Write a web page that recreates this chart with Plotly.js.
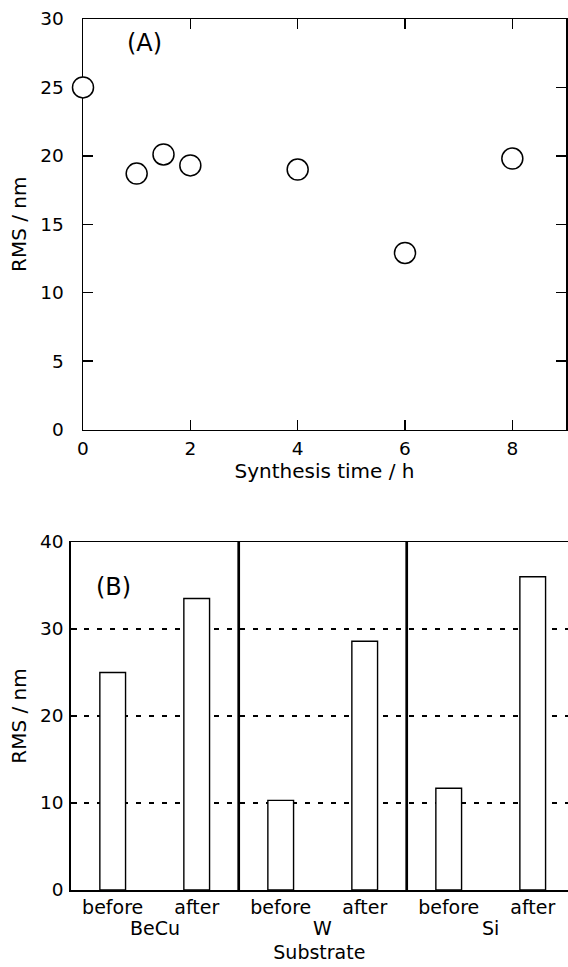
<!DOCTYPE html>
<html>
<head>
<meta charset="utf-8">
<script src="https://cdn.plot.ly/plotly-3.0.1.min.js"></script>
<style>
  html, body { margin: 0; padding: 0; background: #fff; }
  #chart { width: 568px; height: 967px; }
</style>
</head>
<body>
<div id="chart"></div>
<script>
// ---- Panel (A): RMS vs synthesis time ----
const synthesisTime = [0, 1, 1.5, 2, 4, 6, 8];
const rmsA = [25.0, 18.7, 20.1, 19.3, 19.0, 12.9, 19.8];

// ---- Panel (B): RMS per substrate, before / after ----
const substrates = ['BeCu', 'BeCu', 'W', 'W', 'Si', 'Si'];
const stages = ['before', 'after', 'before', 'after', 'before', 'after'];
const rmsB = [25.0, 33.5, 10.3, 28.6, 11.7, 36.0];

const FONT = 'DejaVu Sans, Liberation Sans, Arial, sans-serif';
const W = 568, H = 967;
const px = v => v / W;
const py = v => 1 - v / H;

// one category per bar, shown with its stage label
const barKeys = substrates.map((s, i) => s + ' ' + stages[i]);

// substrate groups: centre index and boundaries
const groups = [];
substrates.forEach((s, i) => {
  const g = groups.find(g => g.name === s);
  if (g) g.idx.push(i); else groups.push({ name: s, idx: [i] });
});
const groupCentres = groups.map(g => g.idx.reduce((a, b) => a + b, 0) / g.idx.length);
const separators = groups.slice(1).map(g => g.idx[0] - 0.5);

const traces = [
  {
    type: 'scatter', mode: 'markers',
    x: synthesisTime, y: rmsA,
    xaxis: 'x', yaxis: 'y',
    cliponaxis: false,
    marker: { symbol: 'circle', size: 21, color: '#ffffff', line: { color: '#000', width: 1.5 } },
    showlegend: false, hoverinfo: 'x+y'
  },
  {
    type: 'bar',
    x: barKeys, y: rmsB,
    xaxis: 'x2', yaxis: 'y2',
    width: 0.306,
    marker: { color: '#ffffff', line: { color: '#000', width: 1.4 } },
    showlegend: false
  }
];

const layout = {
  width: W, height: H,
  margin: { l: 0, r: 0, t: 0, b: 0 },
  paper_bgcolor: '#fff', plot_bgcolor: 'rgba(0,0,0,0)',
  font: { family: FONT, color: '#000', size: 18.5 },
  showlegend: false,
  xaxis: {
    domain: [px(83), px(566)], anchor: 'y',
    range: [0, 9], dtick: 2, tick0: 0,
    showline: true, linecolor: '#000', linewidth: 1.5, mirror: 'ticks',
    ticks: 'inside', ticklen: 10, tickwidth: 1.5, tickcolor: '#000',
    showgrid: false, zeroline: false, layer: 'below traces',
    tickfont: { family: FONT, size: 18.5 },
    ticklabelstandoff: 2,
    title: { text: 'Synthesis time / h', font: { family: FONT, size: 20 }, standoff: 6 }
  },
  yaxis: {
    domain: [py(429.5), py(19)], anchor: 'x',
    range: [0, 30], dtick: 5, tick0: 0,
    showline: true, linecolor: '#000', linewidth: 1.5, mirror: 'ticks',
    ticks: 'inside', ticklen: 10, tickwidth: 1.5, tickcolor: '#000',
    showgrid: false, zeroline: false, layer: 'below traces',
    tickfont: { family: FONT, size: 18.5 },
    ticklabelstandoff: 14,
    title: { text: 'RMS / nm', font: { family: FONT, size: 20 }, standoff: 8 }
  },
  xaxis2: {
    domain: [px(70.7), 1], anchor: 'y2',
    type: 'category',
    categoryorder: 'array', categoryarray: barKeys,
    tickvals: barKeys, ticktext: stages,
    range: [-0.5, 5.42],
    showline: true, linecolor: '#000', linewidth: 1.5, mirror: true,
    ticks: '',
    showgrid: false, zeroline: false,
    tickfont: { family: FONT, size: 19 },
    ticklabelstandoff: 0,
    title: { text: 'Substrate', font: { family: FONT, size: 19 }, standoff: 28 }
  },
  yaxis2: {
    domain: [py(890), py(542)], anchor: 'x2',
    range: [0, 40], dtick: 10, tick0: 0,
    showline: true, linecolor: '#000', linewidth: 1.5,
    ticks: 'inside', ticklen: 6, tickwidth: 1.5, tickcolor: '#000',
    showgrid: true, gridcolor: '#000', gridwidth: 1.2, griddash: '5px,8px',
    zeroline: false,
    tickfont: { family: FONT, size: 18.5 },
    ticklabelstandoff: 2,
    title: { text: 'RMS / nm', font: { family: FONT, size: 20 }, standoff: 8 }
  },
  shapes: separators.map(s => ({
    type: 'line', xref: 'x2', yref: 'y2 domain',
    x0: s, x1: s, y0: 0, y1: 1,
    line: { color: '#000', width: 2.7 }
  })),
  annotations: [
    { text: '(A)', xref: 'paper', yref: 'paper', x: px(144.7), y: py(42.5),
      xanchor: 'center', yanchor: 'middle', showarrow: false,
      font: { family: FONT, size: 24, color: '#000' } },
    { text: '(B)', xref: 'paper', yref: 'paper', x: px(113.5), y: py(587),
      xanchor: 'center', yanchor: 'middle', showarrow: false,
      font: { family: FONT, size: 24, color: '#000' } }
  ].concat(groups.map((g, k) => ({
    text: g.name, xref: 'x2', yref: 'paper',
    x: groupCentres[k], y: py(928),
    xanchor: 'center', yanchor: 'middle', showarrow: false,
    font: { family: FONT, size: 19, color: '#000' }
  })))
};

Plotly.newPlot('chart', traces, layout, { staticPlot: true, displayModeBar: false });
</script>
</body>
</html>
